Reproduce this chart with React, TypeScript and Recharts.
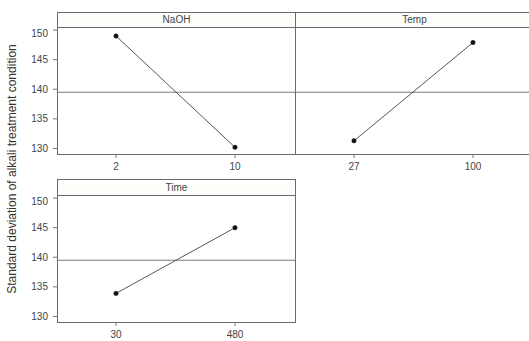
import { LineChart, Line, XAxis, YAxis, ReferenceLine } from 'recharts';

// ============================================================================
// Data
// ============================================================================

const naohLevels = ['2', '10'];
const naohMeans = [149.0, 130.2];

const tempLevels = ['27', '100'];
const tempMeans = [131.3, 147.9];

const timeLevels = ['30', '480'];
const timeMeans = [133.9, 145.0];

const overallMean = 139.5;
const yTicks = [130, 135, 140, 145, 150];
const yLabel = 'Standard deviation of alkali treatment condition';

// ============================================================================
// Constants
// ============================================================================

const FONT = '"Liberation Sans", Arial, sans-serif';
const BORDER = '#6a6a6a';
const PLOT_W = 238;
const PLOT_H = 127;
const AXIS_W = 40;
const XAXIS_H = 22;

const toRows = (levels: string[], means: number[]) =>
  levels.map((level, i) => ({ level, mean: means[i] }));

// ============================================================================
// Panel
// ============================================================================

interface PanelProps {
  title: string;
  levels: string[];
  means: number[];
  left: number;
  top: number;
  headerH: number;
  showY: boolean;
}

function Panel({ title, levels, means, left, top, headerH, showY }: PanelProps) {
  const data = toRows(levels, means);
  const yW = showY ? AXIS_W : 0;
  const plotTop = top + headerH;

  return (
    <>
      <div
        style={{
          position: 'absolute',
          left: left - yW,
          top: plotTop,
          width: PLOT_W + yW,
          height: PLOT_H + XAXIS_H,
        }}
      >
        <LineChart
          width={PLOT_W + yW}
          height={PLOT_H + XAXIS_H}
          data={data}
          margin={{ top: 0, right: 0, bottom: 0, left: 0 }}
        >
          <XAxis
            dataKey="level"
            height={XAXIS_H}
            padding={{ left: 59, right: 60 }}
            axisLine={false}
            tickLine={{ stroke: '#777' }}
            tickSize={3}
            tickMargin={5}
            tick={{ fill: '#444', fontSize: 10, fontFamily: FONT }}
            interval={0}
          />
          <YAxis
            hide={!showY}
            width={yW}
            type="number"
            domain={[128.9, 150.35]}
            ticks={yTicks}
            allowDataOverflow
            axisLine={false}
            tickLine={{ stroke: '#777' }}
            tickSize={4}
            tickMargin={5}
            tick={{ fill: '#444', fontSize: 10, fontFamily: FONT }}
          />
          <ReferenceLine y={overallMean} stroke="#7a7a7a" strokeWidth={1} />
          <Line
            type="linear"
            dataKey="mean"
            stroke="#555"
            strokeWidth={1}
            dot={{ r: 2.2, fill: '#111', stroke: '#111', strokeWidth: 0.5 }}
            isAnimationActive={false}
          />
        </LineChart>
      </div>
      {/* panel frame and header strip */}
      <div
        style={{
          position: 'absolute',
          left,
          top,
          width: PLOT_W + 1,
          height: headerH + PLOT_H,
          border: `1px solid ${BORDER}`,
          boxSizing: 'border-box',
          pointerEvents: 'none',
        }}
      >
        <div
          style={{
            height: headerH - 1,
            borderBottom: `1px solid ${BORDER}`,
            background: '#fdfdfa',
            boxSizing: 'border-box',
            textAlign: 'center',
            fontFamily: FONT,
            fontSize: 10,
            color: '#444',
            lineHeight: `${headerH - 2}px`,
          }}
        >
          {title}
        </div>
      </div>
    </>
  );
}

// ============================================================================
// App
// ============================================================================

export default function App() {
  return (
    <div
      style={{
        position: 'absolute',
        left: 0,
        top: 0,
        width: 529,
        height: 341,
        overflow: 'hidden',
        background: '#fff',
      }}
    >
      <Panel title="NaOH" levels={naohLevels} means={naohMeans} left={57} top={12} headerH={16} showY />
      <Panel title="Temp" levels={tempLevels} means={tempMeans} left={295} top={12} headerH={16} showY={false} />
      <Panel title="Time" levels={timeLevels} means={timeMeans} left={57} top={179} headerH={17} showY />

      <div
        style={{
          position: 'absolute',
          left: 12 - 150,
          top: 169 - 8,
          width: 300,
          height: 16,
          transform: 'rotate(-90deg)',
          textAlign: 'center',
          fontFamily: FONT,
          fontSize: 12,
          lineHeight: '16px',
          color: '#333',
          whiteSpace: 'nowrap',
        }}
      >
        {yLabel}
      </div>
    </div>
  );
}
